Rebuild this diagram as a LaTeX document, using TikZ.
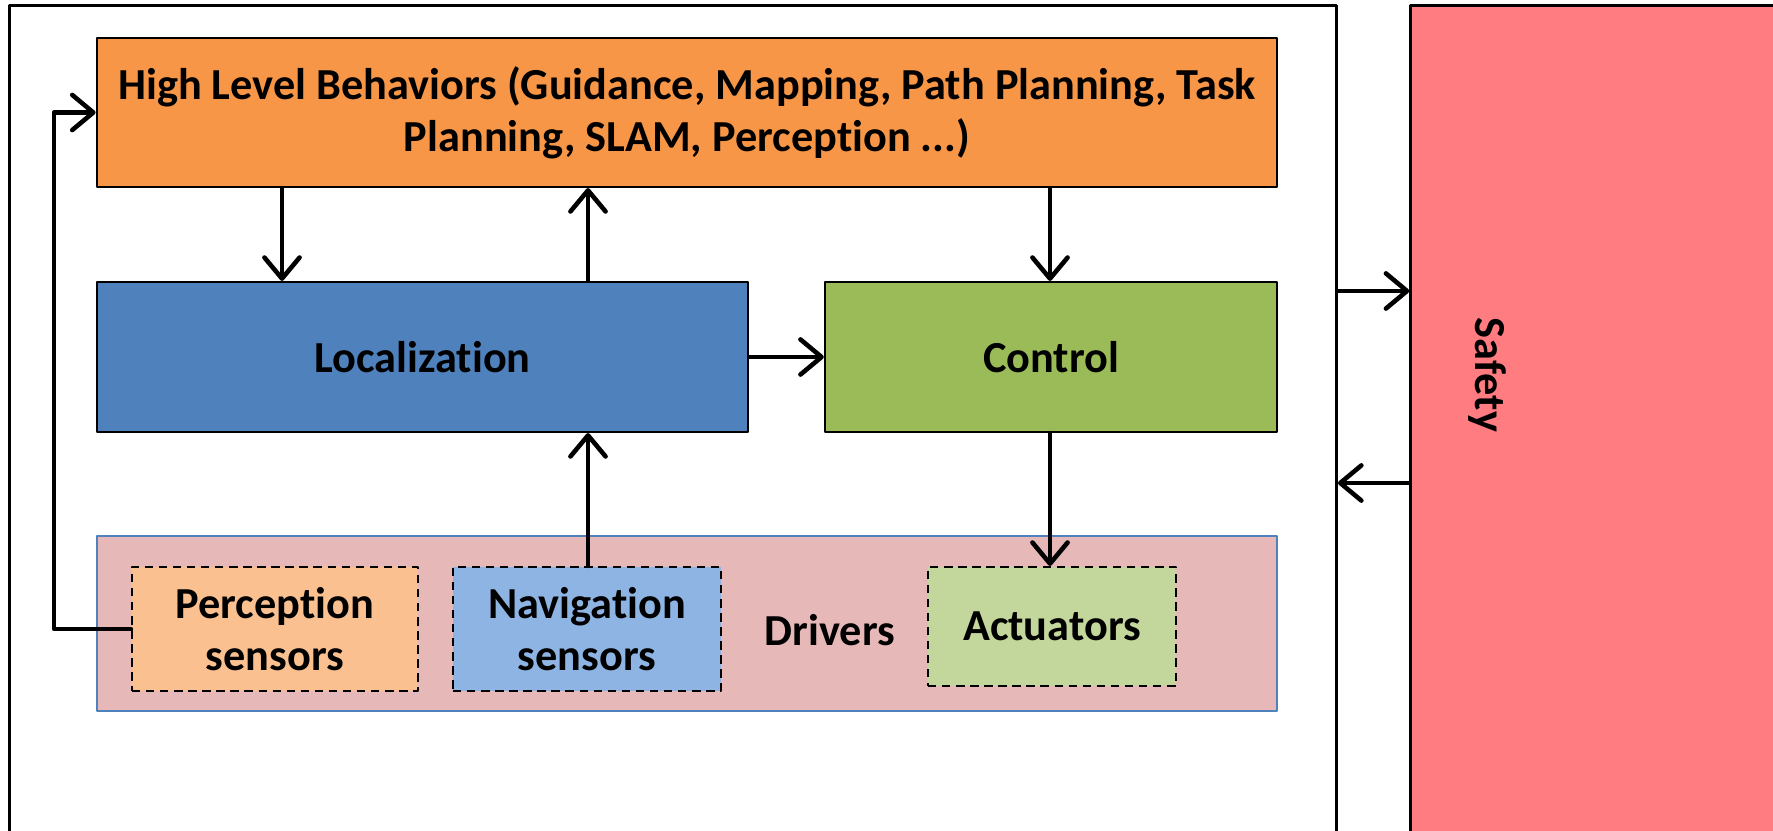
\documentclass[tikz,border=0pt]{standalone}
\usepackage{fontspec}
\setmainfont[Ligatures={NoCommon}]{Carlito}
\usetikzlibrary{arrows.meta}
\definecolor{hlbcol}{HTML}{F79646}
\definecolor{loccol}{HTML}{4F81BD}
\definecolor{ctlcol}{HTML}{9BBB59}
\definecolor{drvcol}{HTML}{E6B9B8}
\definecolor{percol}{HTML}{FAC090}
\definecolor{navcol}{HTML}{8EB4E3}
\definecolor{actcol}{HTML}{C3D69B}
\definecolor{safcol}{HTML}{FF7C80}
\tikzset{
  lbl/.style={font=\fontsize{12.6}{14.7}\selectfont\bfseries},
  block/.style={lbl,draw=black,line width=0.6pt,inner sep=0pt,align=center},
  sensor/.style={block,dash pattern=on 2.4pt off 1.6pt},
  arr/.style={-{Straight Barb[length=6pt,width=10pt,line width=1.3pt,round]},line width=1.3pt,line cap=round},
}
\begin{document}
\begin{tikzpicture}[x=0.01cm,y=-0.01cm,line join=round]
  \useasboundingbox (0,0) rectangle (1773,831);
  % outer frame and safety
  \node[block,line width=0.9pt,minimum width=13.26cm,minimum height=8.94cm] (frm) at (673,453) {};
  \node[block,fill=safcol,line width=0.9pt,minimum width=4.39cm,minimum height=8.94cm] (sfty) at (1630.5,453) {};
  \node[lbl,rotate=-90] (saftxt) at (1487,375) {Safety};
  % main blocks
  \node[block,fill=hlbcol,minimum width=11.8cm,minimum height=1.49cm] (hlb) at (687,112.5)
    {High Level Behaviors (Guidance, Mapping, Path Planning, Task\\ Planning, SLAM, Perception ...)};
  \node[block,fill=loccol,minimum width=6.51cm,minimum height=1.5cm] (loc) at (422.5,357) {Localization};
  \node[block,fill=ctlcol,minimum width=4.52cm,minimum height=1.5cm] (ctl) at (1051,357) {Control};
  % drivers
  \node[block,draw=loccol,fill=drvcol,minimum width=11.8cm,minimum height=1.75cm] (drv) at (687,623.5) {};
  \node[sensor,fill=percol,minimum width=2.86cm,minimum height=1.24cm] (per) at (275,629) {Perception\\sensors};
  \node[sensor,fill=navcol,minimum width=2.68cm,minimum height=1.24cm] (nav) at (587,629) {Navigation\\sensors};
  \node[sensor,fill=actcol,minimum width=2.48cm,minimum height=1.19cm] (act) at (1052,626.5) {Actuators};
  \node[lbl] (drvtxt) at (830,630) {Drivers};
  % connectors
  \coordinate (c1) at (282,0);
  \coordinate (c2) at (588,0);
  \coordinate (c3) at (1050,0);
  \coordinate (bend) at (54,629);
  \coordinate (r1) at (0,291);
  \coordinate (r2) at (0,483);
  \draw[arr] (per.west) -- (bend) |- (hlb.west);
  \draw[arr] (hlb.south -| c1) -- (loc.north -| c1);
  \draw[arr] (loc.north -| c2) -- (hlb.south -| c2);
  \draw[arr] (hlb.south -| c3) -- (ctl.north -| c3);
  \draw[arr] (loc.east) -- (ctl.west);
  \draw[arr] (nav.north -| c2) -- (loc.south -| c2);
  \draw[arr] (ctl.south -| c3) -- (act.north -| c3);
  \draw[arr] (frm.east |- r1) -- (sfty.west |- r1);
  \draw[arr] (sfty.west |- r2) -- (frm.east |- r2);
\end{tikzpicture}
\end{document}
